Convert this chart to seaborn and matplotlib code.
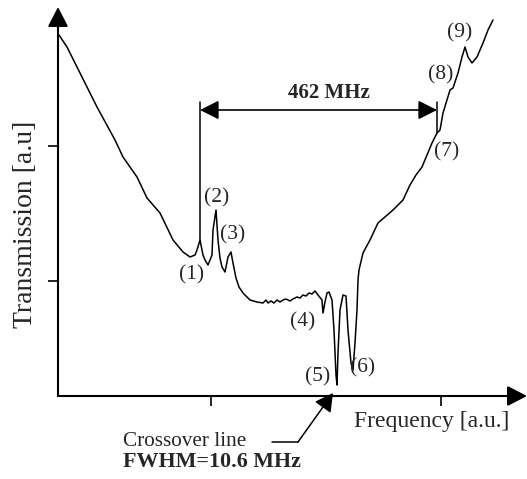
import matplotlib
matplotlib.use("Agg")
import matplotlib.pyplot as plt
import seaborn as sns
import pandas as pd

# ---- data (arbitrary units) ----
freq = [1, 9, 22, 39, 57, 65, 79, 89, 102, 115, 125, 132, 137, 139, 142, 145, 147, 150,
        154, 155, 158, 160, 162, 164, 167, 170, 173, 175, 178, 181, 185, 192, 199, 205,
        208, 210, 213, 216, 219, 222, 225, 228, 232, 235, 239, 242, 245, 248, 251, 254,
        257, 260, 264, 265, 267, 269, 271, 274, 276, 278, 279, 280, 282, 285, 288, 290,
        293, 295, 297, 299, 300, 301, 305, 312, 320, 335, 345, 352, 358, 364, 374, 379,
        382, 385, 392, 395, 400, 404, 407, 410, 414, 419, 425, 430, 435]
trans = [361, 349, 323, 289, 256, 239, 219, 198, 183, 156, 144, 139, 141, 146, 156, 141, 136, 131,
         141, 166, 186, 156, 138, 129, 124, 139, 144, 133, 118, 109, 103, 96, 94, 93,
         96, 93, 95, 93, 96, 94, 96, 97, 95, 97, 99, 98, 101, 100, 103, 102,
         105, 101, 96, 83, 94, 103, 104, 96, 66, 21, 11, 43, 86, 101, 100, 66,
         33, 26, 53, 86, 116, 126, 143, 156, 173, 186, 196, 211, 221, 229, 253, 263,
         266, 283, 306, 308, 323, 339, 349, 339, 333, 339, 353, 366, 376]

peak_labels = ["(1)", "(2)", "(3)", "(4)", "(5)", "(6)", "(7)", "(8)", "(9)"]
peak_x = [134, 159, 175, 245, 260, 305, 389, 383, 402]
peak_y = [121, 198, 161, 74, 19, 28, 244, 321, 363]

span_start, span_end = 142, 379
span_label = "462 MHz"
crossover_x = 275
xticks = [153, 383]
yticks = [115, 250]

df = pd.DataFrame({"freq": freq, "trans": trans})

sns.set_style("white")
plt.rcParams["font.family"] = ["Liberation Serif", "DejaVu Serif"]

W, H = 527, 479
fig = plt.figure(figsize=(W / 100, H / 100), dpi=100)
ax = fig.add_axes([58 / W, (H - 396) / H, (W - 58) / W, (396 - 7) / H])

sns.lineplot(data=df, x="freq", y="trans", ax=ax, color="black", lw=1.1,
             estimator=None, sort=False)

ax.set_xlim(0, W - 58)
ax.set_ylim(0, 396 - 7)
for s in ax.spines.values():
    s.set_visible(False)
ax.set_xlabel("")
ax.set_ylabel("")
ax.set_xticks(xticks)
ax.set_yticks(yticks)
ax.set_xticklabels([])
ax.set_yticklabels([])
ax.tick_params(axis="both", direction="out", length=7, width=1.2, color="black",
               bottom=True, left=True)

# axes with arrow heads
axis_arrow = dict(arrowstyle="-|>,head_length=1.2,head_width=0.62", color="black",
                  lw=1.5, mutation_scale=10, shrinkA=0, shrinkB=0)
ax.annotate("", xy=(1, 0), xytext=(0, 0), xycoords="axes fraction",
            textcoords="axes fraction", arrowprops=axis_arrow, annotation_clip=False)
ax.annotate("", xy=(0, 1), xytext=(0, 0), xycoords="axes fraction",
            textcoords="axes fraction", arrowprops=axis_arrow, annotation_clip=False)

# axis labels
ax.text(-32, 172, "Transmission [a.u]", rotation=90, ha="center", va="center",
        fontsize=20, clip_on=False)
ax.text(296, -26, "Frequency [a.u.]", ha="left", va="center", fontsize=17, clip_on=False)

# peak labels
for lab, px, py in zip(peak_labels, peak_x, peak_y):
    ax.text(px, py, lab, ha="center", va="center", fontsize=15.5)

# 462 MHz span arrow
ax.plot([span_start, span_start], [156, 294], color="black", lw=1.1)
ax.plot([span_end, span_end], [263, 294], color="black", lw=1.1)
ax.annotate("", xy=(span_start, 286), xytext=(span_end, 286),
            arrowprops=dict(arrowstyle="<|-|>,head_length=1.15,head_width=0.58",
                            color="black", lw=1.2, mutation_scale=10,
                            shrinkA=0, shrinkB=0))
ax.text((span_start + span_end) / 2 + 10, 303, span_label, ha="center", va="center",
        fontsize=15, fontweight="bold")

# crossover line annotation
ax.plot([214, 240], [-46, -46], color="black", lw=1.1, clip_on=False)
ax.annotate("", xy=(crossover_x, 3), xytext=(240, -46),
            arrowprops=dict(arrowstyle="-|>,head_length=1.1,head_width=0.6",
                            color="black", lw=1.1, mutation_scale=10,
                            shrinkA=0, shrinkB=0), annotation_clip=False)
ax.text(65, -46, "Crossover line", ha="left", va="center", fontsize=15.3, clip_on=False)
ax.text(65, -66, "FWHM=10.6 MHz", ha="left", va="center", fontsize=15.8,
        fontweight="bold", clip_on=False)

fig.savefig("out.png", dpi=100)
